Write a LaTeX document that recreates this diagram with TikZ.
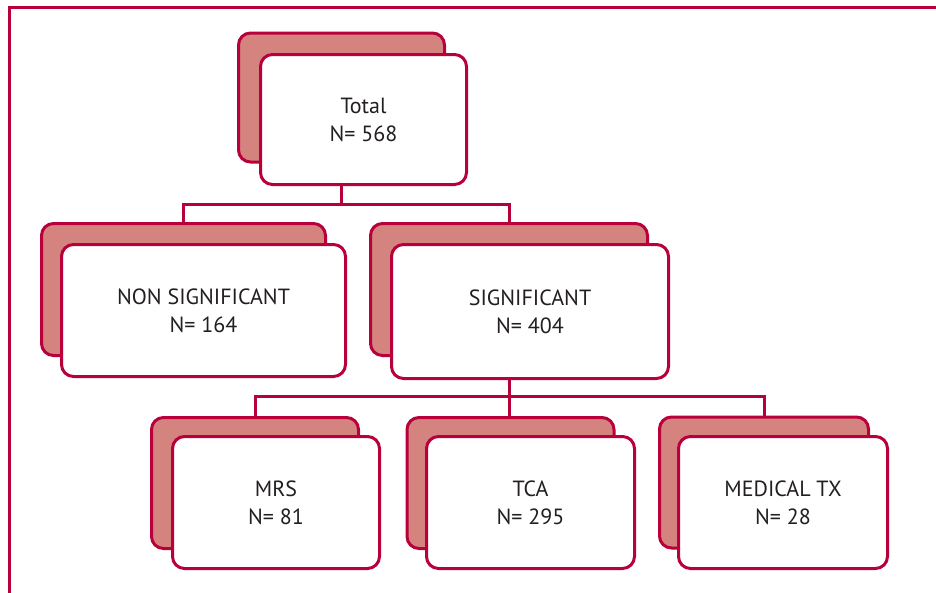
\documentclass[tikz,border=0pt]{standalone}
\usepackage{fontspec}
\setmainfont{PT Sans}
\usetikzlibrary{calc}
\definecolor{crimson}{RGB}{184,0,58}
\definecolor{rosefill}{RGB}{213,131,127}
\definecolor{textgray}{RGB}{35,31,32}

\begin{document}
\begin{tikzpicture}[x=1pt,y=-1pt]
	\tikzset{backbox/.style={draw=crimson,fill=rosefill,line width=3pt,rounded corners=12pt,inner sep=0pt},
		frontbox/.style={draw=crimson,fill=white,line width=3pt,rounded corners=12pt,inner sep=0pt,
			align=center,text=textgray,font=\fontsize{22}{28}\selectfont},
		link/.style={draw=crimson,line width=3pt}}
	\useasboundingbox (0,0) rectangle (936,592);
	\draw[crimson,line width=3pt] (9.5,7.5) rectangle (960,620);
	% top
	\node[backbox,minimum width=206pt,minimum height=129pt] (totalb) at (341.5,97.5) {};
	\node[frontbox,minimum width=206pt,minimum height=130pt] (total) at (363.5,119.5) {Total\\N= 568};
	% second level
	\node[backbox,minimum width=284pt,minimum height=132pt] (nonsigb) at (183.5,289.5) {};
	\node[frontbox,minimum width=284pt,minimum height=132pt] (nonsig) at (203.5,310.5) {NON SIGNIFICANT\\N= 164};
	\node[backbox,minimum width=277pt,minimum height=132pt] (sigb) at (509,289.5) {};
	\node[frontbox,minimum width=277pt,minimum height=134pt] (sig) at (530,311.5) {SIGNIFICANT\\N= 404};
	% third level
	\node[backbox,minimum width=207pt,minimum height=131pt] (mrsb) at (255,483) {};
	\node[frontbox,minimum width=207pt,minimum height=132pt] (mrs) at (276,502.5) {MRS\\N= 81};
	\node[backbox,minimum width=207pt,minimum height=131pt] (tcab) at (510.5,483) {};
	\node[frontbox,minimum width=208pt,minimum height=132pt] (tca) at (530.5,502.5) {TCA\\N= 295};
	\node[backbox,minimum width=209pt,minimum height=131pt] (medb) at (764,482.5) {};
	\node[frontbox,minimum width=209pt,minimum height=132pt] (med) at (783,502.5) {MEDICAL TX\\N= 28};
	% connectors
	\coordinate (forka) at ($(total.south -| totalb)+(0,18)$);
	\draw[link] (total.south -| totalb) -- (forka);
	\draw[link] (nonsigb.north) |- (forka) -| (sigb.north);
	\coordinate (forkb) at ($(sig.south -| sigb)+(0,16)$);
	\draw[link] (sig.south -| sigb) -- (forkb) -- (tcab.north -| forkb);
	\draw[link] (mrsb.north) |- (forkb) -| (medb.north);
\end{tikzpicture}
\end{document}
